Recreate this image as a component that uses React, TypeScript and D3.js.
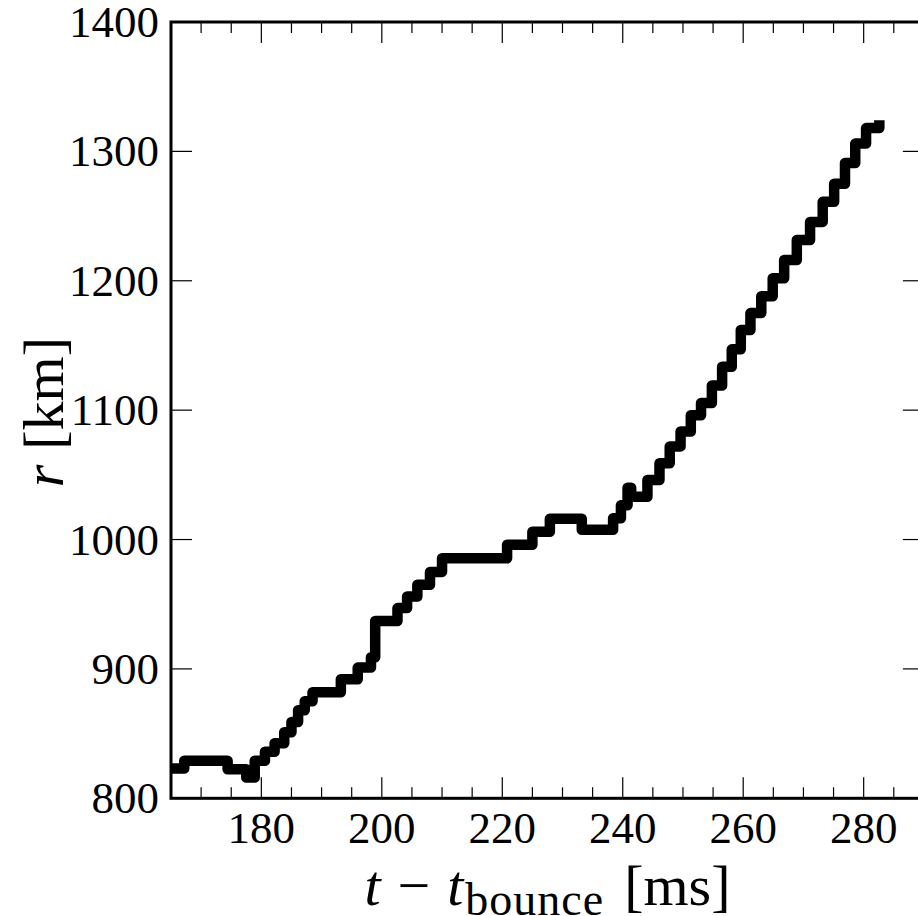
import React from "react";
import * as d3 from "d3";

// Plateau start times [ms] and shock radius [km] (step data)
const T_START: number[] = [
  165, 167.2, 174.4, 177.5, 178.9, 180.6, 182.2, 183.8, 185.0, 186.1, 187.2,
  188.5, 193.2, 196.0, 198.2, 198.9, 202.6, 204.2, 205.9, 208.0, 210.0, 220.8,
  225.0, 227.9, 233.2, 238.4, 239.7, 240.8, 241.4, 244.1, 246.1, 247.8, 249.6,
  251.3, 253.0, 254.8, 256.5, 258.1, 259.6, 261.2, 263.0, 264.9, 266.8, 268.9,
  271.1, 273.2, 275.1, 276.9, 278.6, 280.4, 282.6,
];
const RADIUS: number[] = [
  823, 829, 822.5, 816, 829, 836, 842.5, 851, 859, 868, 875,
  882, 892, 901, 909, 937, 947, 956, 965, 975, 985.5, 996,
  1006, 1016, 1007.5, 1016.5, 1026.5, 1040, 1033, 1046, 1059, 1072, 1083.5,
  1096, 1105.5, 1119, 1133.5, 1147, 1162, 1175, 1188, 1202, 1216, 1231.5,
  1245.5, 1261, 1275, 1291, 1306, 1318, 1320,
];

const X_DOMAIN = [165, 290];
const Y_DOMAIN = [800, 1400];
const X_MAJOR = [180, 200, 220, 240, 260, 280];
const X_MINOR = [170, 175, 185, 190, 195, 205, 210, 215, 225, 230, 235, 245, 250, 255, 265, 270, 275, 285];
const Y_MAJOR = [800, 900, 1000, 1100, 1200, 1300, 1400];

const FONT = "'Liberation Serif', 'Times New Roman', serif";

export default function App() {
  const W = 918;
  const H = 916;
  const x = d3.scaleLinear().domain(X_DOMAIN).range([171, 923.9]);
  const y = d3.scaleLinear().domain(Y_DOMAIN).range([798.3, 22]);
  const x0 = x.range()[0];
  const x1 = x.range()[1];
  const yTop = y.range()[1];
  const yBot = y.range()[0];

  const data = T_START.map((t, i) => ({ t, r: RADIUS[i] }));
  const line = d3
    .line<{ t: number; r: number }>()
    .x((d) => x(d.t))
    .y((d) => y(d.r))
    .curve(d3.curveStepAfter);

  const MAJ = 21;
  const MIN = 11;

  return (
    <svg
      width={W}
      height={H}
      style={{ position: "absolute", left: 0, top: 0, background: "#fff" }}
    >
      <defs>
        <clipPath id="plotclip">
          <rect x={x0} y={yTop} width={x1 - x0} height={yBot - yTop} />
        </clipPath>
      </defs>
      <rect x={0} y={0} width={W} height={H} fill="#fff" />

      {/* data line */}
      <path
        d={line(data) || ""}
        fill="none"
        stroke="#000"
        strokeWidth={10.5}
        strokeLinejoin="round"
        strokeLinecap="square"
        clipPath="url(#plotclip)"
      />

      {/* x ticks bottom and top */}
      {X_MAJOR.map((v) => (
        <g key={"xM" + v}>
          <line x1={x(v)} x2={x(v)} y1={yBot} y2={yBot - MAJ} stroke="#000" strokeWidth={1.2} />
          <line x1={x(v)} x2={x(v)} y1={yTop} y2={yTop + MAJ} stroke="#000" strokeWidth={1.2} />
        </g>
      ))}
      {X_MINOR.map((v) => (
        <g key={"xm" + v}>
          <line x1={x(v)} x2={x(v)} y1={yBot} y2={yBot - MIN} stroke="#000" strokeWidth={1.2} />
          <line x1={x(v)} x2={x(v)} y1={yTop} y2={yTop + MIN} stroke="#000" strokeWidth={1.2} />
        </g>
      ))}
      {/* y ticks left and right */}
      {Y_MAJOR.map((v) => (
        <g key={"yM" + v}>
          <line x1={x0} x2={x0 + MAJ} y1={y(v)} y2={y(v)} stroke="#000" strokeWidth={1.2} />
          <line x1={x1} x2={x1 - MAJ} y1={y(v)} y2={y(v)} stroke="#000" strokeWidth={1.2} />
        </g>
      ))}

      {/* spines */}
      <rect
        x={x0}
        y={yTop}
        width={x1 - x0}
        height={yBot - yTop}
        fill="none"
        stroke="#000"
        strokeWidth={3}
      />

      {/* tick labels */}
      {X_MAJOR.map((v) => (
        <text
          key={"xl" + v}
          x={x(v)}
          y={843}
          textAnchor="middle"
          fontFamily={FONT}
          fontSize={45}
          fill="#000"
        >
          {v}
        </text>
      ))}
      {Y_MAJOR.map((v) => (
        <text
          key={"yl" + v}
          x={159}
          y={y(v) + 15}
          textAnchor="end"
          fontFamily={FONT}
          fontSize={45}
          fill="#000"
        >
          {v}
        </text>
      ))}

      {/* x axis label */}
      <text
        x={(x0 + x1) / 2}
        y={905}
        textAnchor="middle"
        fontFamily={FONT}
        fontSize={58}
        fill="#000"
        style={{ whiteSpace: "pre" }}
      >
        <tspan fontStyle="italic">t</tspan>
        <tspan dx={17}>{"\u2212"}</tspan>
        <tspan dx={17} fontStyle="italic">t</tspan>
        <tspan fontSize={46} dy={10} dx={2} letterSpacing={1}>
          bounce
        </tspan>
        <tspan dy={-10} dx={20}>[ms]</tspan>
      </text>

      {/* y axis label */}
      <text
        transform={`translate(63, ${(yTop + yBot) / 2 + 2}) rotate(-90)`}
        textAnchor="middle"
        fontFamily={FONT}
        fontSize={58}
        fill="#000"
      >
        <tspan fontStyle="italic">r</tspan>
        <tspan dx={15}>[km]</tspan>
      </text>
    </svg>
  );
}
